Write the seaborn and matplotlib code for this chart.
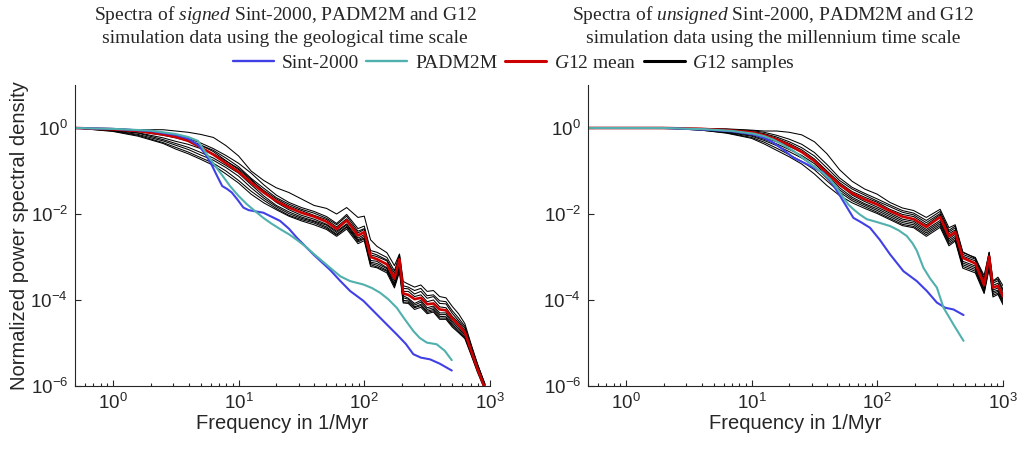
import numpy as np
import pandas as pd
import seaborn as sns
import matplotlib.pyplot as plt
from matplotlib.lines import Line2D
from matplotlib.ticker import LogLocator, NullLocator, FixedLocator

# ------------------------------------------------
# Data (log10 frequency in 1/Myr, log10 normalized PSD)
# ------------------------------------------------
# left panel: signed, geological time scale
sint_sig_logf = [-0.30, 0.0, 0.3, 0.5, 0.6, 0.68, 0.74, 0.79, 0.83, 0.87, 0.91, 0.946, 0.99, 1.038,
                 1.08, 1.118, 1.197, 1.26, 1.33, 1.40, 1.463, 1.595, 1.728, 1.81, 1.887, 1.993, 2.125,
                 2.258, 2.33, 2.39, 2.45, 2.523, 2.60, 2.696]
sint_sig_logp = [0, -0.02, -0.07, -0.16, -0.25, -0.40, -0.62, -0.88, -1.12, -1.35, -1.42, -1.50, -1.66,
                 -1.85, -1.91, -1.93, -1.97, -2.06, -2.16, -2.34, -2.55, -2.94, -3.30, -3.56, -3.79,
                 -4.02, -4.41, -4.80, -5.02, -5.26, -5.34, -5.38, -5.48, -5.64]
padm_sig_logf = [-0.30, 0.0, 0.3, 0.5, 0.6, 0.677, 0.733, 0.78, 0.813, 0.87, 0.932, 1.0, 1.065, 1.13,
                 1.197, 1.26, 1.33, 1.40, 1.463, 1.53, 1.595, 1.66, 1.728, 1.81, 1.887, 1.993, 2.06,
                 2.125, 2.19, 2.258, 2.32, 2.39, 2.44, 2.497, 2.576, 2.64, 2.696]
padm_sig_logp = [0, -0.02, -0.06, -0.14, -0.21, -0.30, -0.55, -0.74, -0.88, -1.10, -1.35, -1.58, -1.77,
                 -1.93, -2.09, -2.22, -2.35, -2.47, -2.60, -2.75, -2.92, -3.08, -3.25, -3.45, -3.56,
                 -3.64, -3.72, -3.83, -3.98, -4.18, -4.44, -4.72, -4.88, -4.99, -5.03, -5.18, -5.40]
g12_sig_logf = [-0.30, 0.0, 0.2, 0.4, 0.5, 0.6, 0.7, 0.8, 0.9, 1.0, 1.1, 1.2, 1.3, 1.4, 1.5, 1.6, 1.7,
                1.78, 1.86, 1.95, 2.0, 2.05, 2.1, 2.18, 2.24, 2.28, 2.31, 2.35, 2.4, 2.45, 2.5, 2.55,
                2.6, 2.65, 2.7, 2.75, 2.8, 2.85, 2.9, 2.96]
g12_sig_mean = [0, -0.03, -0.07, -0.15, -0.21, -0.30, -0.45, -0.62, -0.82, -1.02, -1.27, -1.50, -1.70,
                -1.85, -1.97, -2.06, -2.18, -2.35, -2.15, -2.50, -2.42, -3.00, -3.05, -3.17, -3.50,
                -3.05, -3.85, -3.88, -3.98, -3.95, -4.10, -4.08, -4.22, -4.24, -4.43, -4.58, -4.75,
                -5.18, -5.60, -6.05]
# sample curves as offsets (decades) from the mean
g12_sig_offsets = [
    [0, .01, .03, .11, .14, .20, .30, .40, .41, .37, .27, .28, .31, .35, .32, .26, .31, .35, .30, .42,
     .37, .40, .30, .27, .30, .12, .28, .25, .28, .30, .30, .30, .30, .29, .28, .26, .20, .15, .12, .08],
    [0, 0, -.01, -.02, -.02, 0, .05, .1, .12, .12, .1, .1, .08, .08, .08, .08, .08, .1, .1, .1,
     .08, .1, .1, .1, .12, .05, .12, .14, .12, .15, .14, .16, .14, .15, .12, .1, .1, .1, .08, .06],
    [0, 0, 0, 0, .02, .03, .05, .07, .06, .05, .05, .05, .05, .04, .05, .03, .05, .05, .04, .06,
     .06, .05, .06, .08, .05, .04, .05, .08, .06, .07, .06, .08, .06, .06, .05, .06, .05, .08, .1, .1],
    [0, -.02, -.04, -.08, -.1, -.08, -.03, .02, .05, .08, .08, .02, -.03, -.05, -.06, -.06, -.06, -.05, -.08, -.06,
     -.06, -.08, -.05, -.08, -.06, -.1, -.05, -.08, -.1, -.06, -.08, -.06, -.08, -.06, -.06, -.04, -.03, 0, .02, .04],
    [0, -.02, -.05, -.12, -.15, -.15, -.12, -.08, -.05, -.03, -.05, -.08, -.1, -.1, -.1, -.1, -.08, -.08, -.1, -.1,
     -.1, -.12, -.1, -.1, -.12, -.15, -.1, -.1, -.14, -.1, -.12, -.1, -.12, -.1, -.1, -.08, -.06, -.02, 0, .03],
    [0, -.03, -.08, -.15, -.19, -.2, -.18, -.13, -.1, -.1, -.12, -.13, -.13, -.14, -.13, -.12, -.12, -.12, -.14, -.12,
     -.14, -.15, -.14, -.14, -.15, -.2, -.16, -.14, -.18, -.15, -.16, -.14, -.16, -.15, -.14, -.12, -.1, -.05, -.03, 0],
    [0, -.04, -.1, -.19, -.24, -.26, -.24, -.2, -.18, -.2, -.2, -.18, -.17, -.18, -.16, -.15, -.15, -.14, -.16, -.15,
     -.16, -.18, -.18, -.16, -.18, -.24, -.2, -.17, -.2, -.18, -.19, -.17, -.2, -.18, -.17, -.16, -.12, -.08, -.05, -.02],
    [0, -.05, -.12, -.21, -.28, -.3, -.28, -.25, -.25, -.26, -.27, -.24, -.2, -.2, -.19, -.19, -.18, -.17, -.2, -.19,
     -.2, -.22, -.2, -.2, -.22, -.3, -.22, -.2, -.24, -.22, -.22, -.2, -.23, -.21, -.2, -.18, -.15, -.1, -.08, -.05],
    [0, 0, .02, .04, .05, .06, .1, .14, .18, .2, .22, .18, .14, .12, .12, .12, .12, .13, .14, .16,
     .14, .15, .16, .16, .18, .1, .18, .18, .2, .22, .2, .2, .2, .2, .18, .16, .14, .12, .1, .08],
]

# right panel: unsigned, millennium time scale
sint_uns_logf = [-0.30, 0.3, 0.64, 0.85, 1.014, 1.1, 1.173, 1.25, 1.333, 1.439, 1.571, 1.64, 1.704,
                 1.76, 1.81, 1.87, 1.942, 2.02, 2.102, 2.208, 2.314, 2.394, 2.474, 2.54, 2.606, 2.686]
sint_uns_logp = [0, 0, -0.04, -0.08, -0.15, -0.23, -0.34, -0.50, -0.69, -0.84, -1.04, -1.28, -1.58,
                 -1.85, -2.09, -2.19, -2.32, -2.60, -2.94, -3.33, -3.56, -3.79, -4.06, -4.18, -4.22, -4.35]
padm_uns_logf = [-0.30, 0.3, 0.64, 0.85, 1.014, 1.1, 1.173, 1.25, 1.333, 1.41, 1.49, 1.56, 1.624,
                 1.68, 1.73, 1.77, 1.81, 1.86, 1.916, 2.0, 2.102, 2.17, 2.234, 2.28, 2.314, 2.367,
                 2.42, 2.474, 2.527, 2.606, 2.686]
padm_uns_logp = [0, 0, -0.03, -0.07, -0.13, -0.19, -0.27, -0.39, -0.53, -0.70, -0.88, -1.03, -1.19,
                 -1.40, -1.62, -1.78, -1.89, -2.01, -2.12, -2.19, -2.28, -2.38, -2.51, -2.68, -2.85,
                 -3.25, -3.50, -3.71, -4.18, -4.57, -4.95]
g12_uns_logf = [-0.30, 0.3, 0.6, 0.8, 1.0, 1.1, 1.2, 1.3, 1.4, 1.5, 1.6, 1.7, 1.8, 1.9, 2.0, 2.1,
                2.2, 2.29, 2.39, 2.5, 2.57, 2.62, 2.68, 2.78, 2.85, 2.89, 2.92, 2.96, 3.0]
g12_uns_mean = [0, 0, -0.02, -0.05, -0.10, -0.17, -0.27, -0.40, -0.56, -0.77, -1.05, -1.32, -1.52,
                -1.66, -1.78, -1.93, -2.06, -2.12, -2.30, -2.07, -2.52, -2.42, -3.02, -3.15, -3.65,
                -2.99, -3.71, -3.67, -3.91]
g12_uns_offsets = [
    [0, 0, .01, .03, .05, .10, .20, .30, .40, .45, .45, .35, .28, .24, .24, .20, .20, .20, .22, .18,
     .20, .17, .14, .12, .22, .10, .15, .20, .24],
    [0, 0, 0, .01, .02, .04, .06, .08, .1, .12, .12, .1, .1, .1, .08, .1, .1, .1, .1, .08,
     .1, .1, .08, .1, .12, .06, .1, .12, .12],
    [0, 0, 0, 0, .01, .02, .03, .04, .05, .05, .05, .05, .04, .05, .05, .04, .05, .06, .05, .05,
     .06, .05, .04, .06, .06, .03, .05, .06, .06],
    [0, 0, -.01, -.02, -.04, -.05, -.05, -.03, 0, .02, .03, 0, -.04, -.05, -.06, -.05, -.06, -.05, -.06, -.08,
     -.06, -.05, -.08, -.06, -.05, -.1, -.06, -.05, -.04],
    [0, 0, -.02, -.04, -.07, -.09, -.1, -.1, -.08, -.06, -.05, -.07, -.09, -.1, -.1, -.09, -.1, -.09, -.1, -.12,
     -.1, -.1, -.12, -.1, -.1, -.15, -.1, -.1, -.08],
    [0, 0, -.02, -.05, -.09, -.12, -.14, -.15, -.14, -.12, -.12, -.12, -.13, -.13, -.14, -.13, -.14, -.13, -.14, -.16,
     -.14, -.14, -.16, -.14, -.14, -.2, -.14, -.13, -.12],
    [0, 0, -.03, -.06, -.12, -.16, -.2, -.22, -.22, -.2, -.18, -.17, -.17, -.17, -.18, -.17, -.18, -.17, -.18, -.2,
     -.18, -.18, -.2, -.18, -.17, -.24, -.18, -.17, -.16],
    [0, 0, -.03, -.07, -.14, -.2, -.25, -.27, -.28, -.3, -.29, -.25, -.22, -.21, -.21, -.2, -.21, -.2, -.22, -.24,
     -.22, -.21, -.24, -.22, -.2, -.28, -.22, -.2, -.2],
    [0, 0, 0, .02, .04, .07, .1, .14, .18, .2, .2, .16, .14, .14, .13, .14, .14, .14, .15, .13,
     .14, .14, .12, .14, .16, .1, .14, .16, .16],
]

titles = ["Spectra of $\\it{signed}$ Sint-2000, PADM2M and G12\nsimulation data using the geological time scale",
          "Spectra of $\\it{unsigned}$ Sint-2000, PADM2M and G12\nsimulation data using the millennium time scale"]
legend_labels = ["Sint-2000", "PADM2M", "$\\it{G}$12 mean", "$\\it{G}$12 samples"]

C_SINT = "#4040e6"
C_PADM = "#50b0ad"
C_MEAN = "#cc0000"
C_AX = "#262626"

# ------------------------------------------------
# Style
# ------------------------------------------------
sns.set_theme(style="ticks")
plt.rcParams['font.family'] = ['Liberation Sans', 'DejaVu Sans']
plt.rcParams['mathtext.fontset'] = 'custom'
plt.rcParams['mathtext.rm'] = 'Liberation Sans'
plt.rcParams['mathtext.it'] = 'Liberation Serif:italic'


def panel(ax, g_logf, g_mean, g_offsets, s_logf, s_logp, p_logf, p_logp):
    rows = []
    for i, off in enumerate(g_offsets):
        for lf, m, o in zip(g_logf, g_mean, off):
            rows.append((i, 10 ** lf, 10 ** (m + o)))
    samples = pd.DataFrame(rows, columns=["sample", "freq", "psd"])
    sns.lineplot(data=samples, x="freq", y="psd", units="sample", estimator=None,
                 color="black", lw=0.75, ax=ax, legend=False)
    mean = pd.DataFrame({"freq": 10 ** np.array(g_logf), "psd": 10 ** np.array(g_mean)})
    sns.lineplot(data=mean, x="freq", y="psd", color=C_MEAN, lw=1.9, ax=ax)
    sint = pd.DataFrame({"freq": 10 ** np.array(s_logf), "psd": 10 ** np.array(s_logp)})
    sns.lineplot(data=sint, x="freq", y="psd", color=C_SINT, lw=1.5, ax=ax)
    padm = pd.DataFrame({"freq": 10 ** np.array(p_logf), "psd": 10 ** np.array(p_logp)})
    sns.lineplot(data=padm, x="freq", y="psd", color=C_PADM, lw=1.5, ax=ax)

    ax.set_xscale("log")
    ax.set_yscale("log")
    ax.set_xlim(0.5, 1000)
    ax.set_ylim(1e-6, 10)
    ax.xaxis.set_major_locator(LogLocator(base=10))
    ax.xaxis.set_minor_locator(LogLocator(base=10, subs=np.arange(2, 10)))
    ax.yaxis.set_major_locator(FixedLocator([1e-6, 1e-4, 1e-2, 1]))
    ax.yaxis.set_minor_locator(NullLocator())
    ax.tick_params(which="both", direction="in", color=C_AX, labelcolor=C_AX,
                   labelsize=13.5, width=0.8)
    ax.tick_params(which="major", length=4, pad=5)
    ax.tick_params(which="minor", length=2.5)
    sns.despine(ax=ax)
    for s in ("left", "bottom"):
        ax.spines[s].set_color(C_AX)
        ax.spines[s].set_linewidth(0.8)
    ax.set_xlabel("Frequency in 1/Myr", size=14.5, color=C_AX, labelpad=1)
    ax.set_ylabel("")


fig = plt.figure(figsize=(10.21, 4.5), dpi=100)
ax1 = fig.add_axes([75 / 1021, 1 - 386 / 450, 415 / 1021, 301 / 450])
ax2 = fig.add_axes([588 / 1021, 1 - 386 / 450, 415 / 1021, 301 / 450])

panel(ax1, g12_sig_logf, g12_sig_mean, g12_sig_offsets,
      sint_sig_logf, sint_sig_logp, padm_sig_logf, padm_sig_logp)
panel(ax2, g12_uns_logf, g12_uns_mean, g12_uns_offsets,
      sint_uns_logf, sint_uns_logp, padm_uns_logf, padm_uns_logp)
ax1.set_ylabel("Normalized power spectral density", size=14.5, color=C_AX, labelpad=1)

fig.text(285 / 1021, 1 - 4 / 450, titles[0], ha="center", va="top",
         family="Liberation Serif", size=14, linespacing=1.3)
fig.text(773 / 1021, 1 - 4 / 450, titles[1], ha="center", va="top",
         family="Liberation Serif", size=14, linespacing=1.3)

handles = [Line2D([], [], color=c, lw=w) for c, w in
           [(C_SINT, 1.7), (C_PADM, 1.7), (C_MEAN, 2.2), ("black", 2.2)]]
fig.legend(handles, legend_labels, ncol=4, loc="center",
           bbox_to_anchor=(514 / 1021, 1 - 63 / 450), frameon=False,
           prop={"family": "Liberation Serif", "size": 14},
           handlelength=2.1, handletextpad=0.4, columnspacing=0.4, borderpad=0)

fig.savefig("out.png", dpi=100)
